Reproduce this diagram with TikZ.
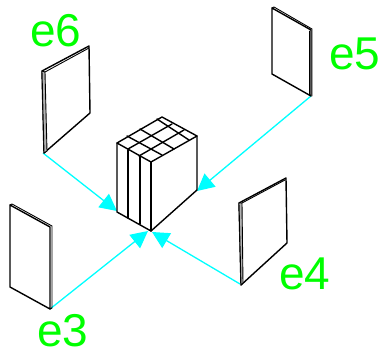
\documentclass[tikz,border=0pt]{standalone}
\usepackage{fontspec}
\setmainfont{Liberation Sans}
\usetikzlibrary{arrows.meta}
\definecolor{lbl}{RGB}{0,255,0}
\definecolor{conn}{RGB}{0,255,255}
\tikzset{x=1pt,y=-1pt,
 edge/.style={draw=black,line width=1.4pt,line join=round,line cap=round},
 thin edge/.style={draw=black,line width=0.9pt,line join=round,line cap=round},
 band/.style={draw=black,line width=0.9pt,fill=gray!60,line join=round},
 conn/.style={draw=conn,line width=1.3pt,-{Triangle[length=17pt,width=17pt]}},
 lab/.style={text=lbl,font=\fontsize{46pt}{46pt}\selectfont,inner sep=0pt,anchor=center}}
\begin{document}
\begin{tikzpicture}
\useasboundingbox (0,0) rectangle (384,356);
% coordinates of connector ends
\coordinate (p6) at (43,153);
\coordinate (p5) at (311,96);
\coordinate (p4) at (240,284);
\coordinate (p3) at (50,309);
\coordinate (t6) at (117,211);
\coordinate (t5) at (197,191);
\coordinate (t4) at (152,232);
\coordinate (t3) at (148,231);
% connectors
\draw[conn] (p6) -- (t6);
\draw[conn] (p5) -- (t5);
\draw[conn] (p4) -- (t4);
\draw[conn] (p3) -- (t3);
% panel e6
\draw[edge] (42,71) -- (89,46) -- (90,113) -- (44,153) -- cycle;
\draw[band] (42,71) -- (45,72) -- (47,151) -- (44,153) -- cycle;
\draw[thin edge] (45,72) -- (89,48);
% panel e5
\draw[edge] (272,8) -- (311,30) -- (311,96) -- (272,74) -- cycle;
\draw[thin edge] (272,8) -- (274,7) -- (312,29) -- (312,96);
\draw[thin edge] (309,31) -- (309,95);
% panel e4
\draw[edge] (239,203) -- (286,178) -- (287,243) -- (241,285) -- cycle;
\draw[band] (239,203) -- (242,203) -- (243,283) -- (241,285) -- cycle;
\draw[thin edge] (242,203) -- (285,180);
% panel e3
\draw[edge] (10,205) -- (50,227) -- (50,309) -- (10,287) -- cycle;
\draw[thin edge] (10,205) -- (12,204) -- (52,226) -- (52,308) -- (50,309);
% box
\draw[edge] (117,143) -- (162,117) -- (197,136) -- (151,162) -- cycle;
\draw[edge] (117,143) -- (117,212) -- (151,231) -- (197,190) -- (197,136);
\draw[edge] (151,162) -- (151,231);
\draw[edge] (128,150) -- (128,218);
\draw[edge] (140,156) -- (140,224);
\draw[edge] (128,149) -- (172,124);
\draw[edge] (139,156) -- (184,130);
\draw[edge] (127,136) -- (162,155);
\draw[edge] (140,129) -- (174,149);
\draw[edge] (157,119) -- (189,140);
% labels
\node[lab] (e6) at (56,31) {e6};
\node[lab] (e5) at (355,54) {e5};
\node[lab] (e4) at (305,273.5) {e4};
\node[lab] (e3) at (63,331) {e3};
\end{tikzpicture}
\end{document}
